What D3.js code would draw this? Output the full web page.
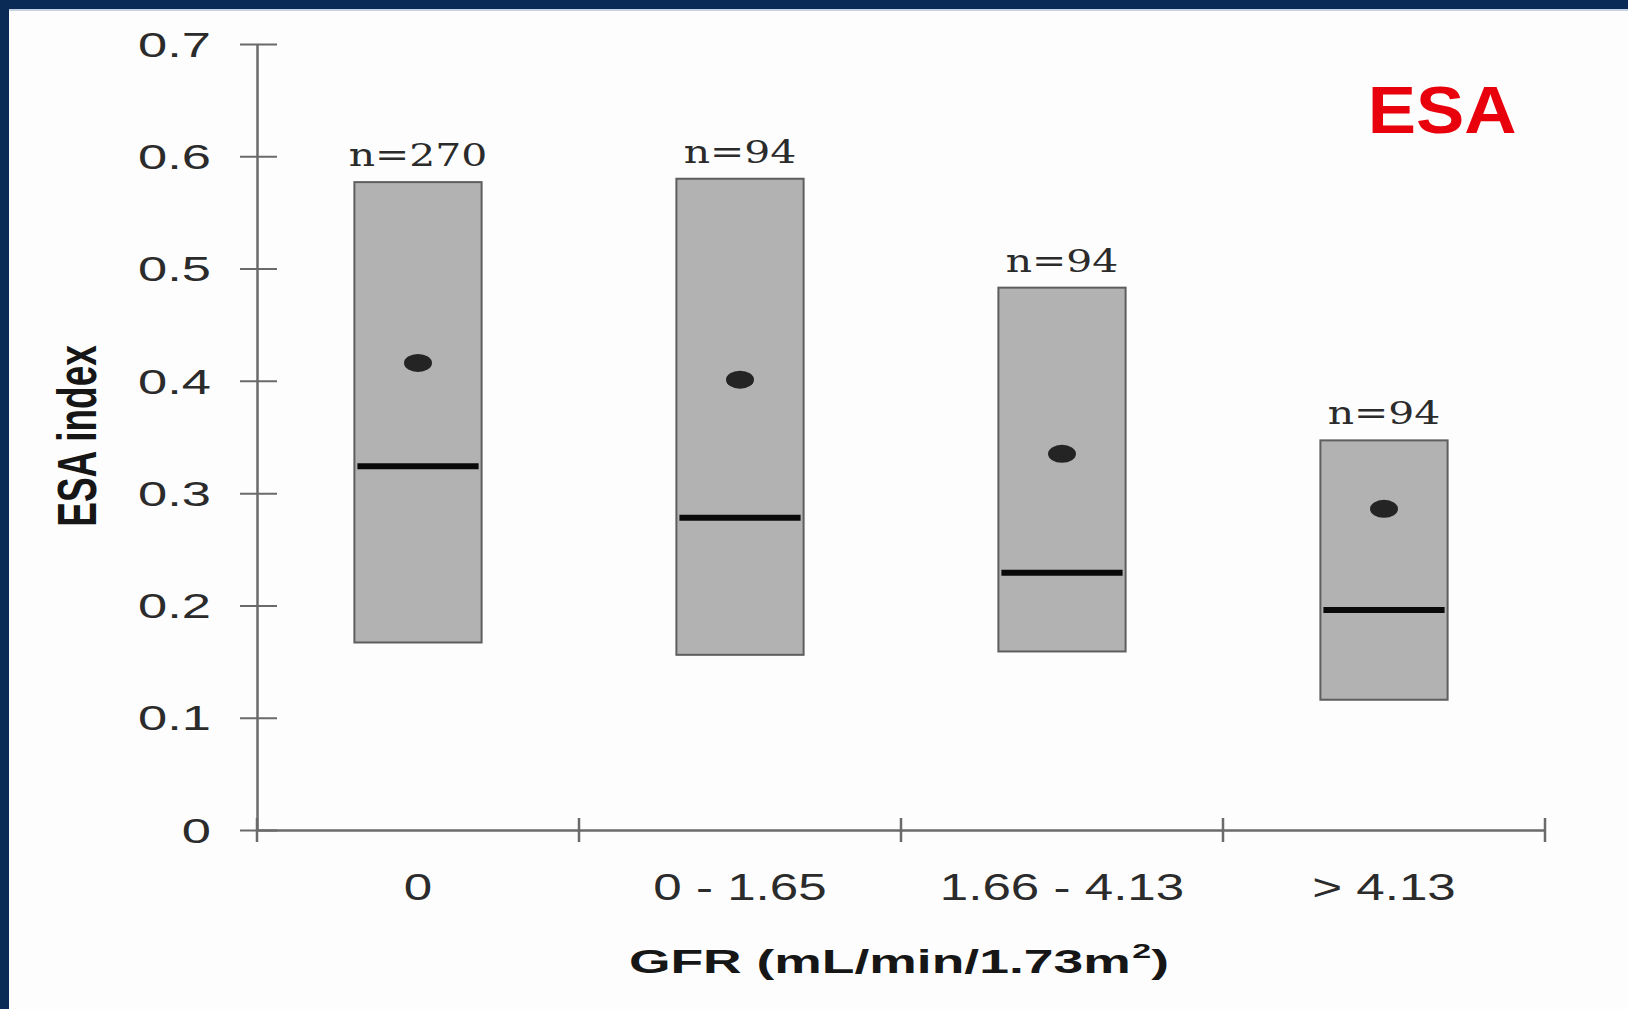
<!DOCTYPE html>
<html>
<head>
<meta charset="utf-8">
<script src="https://cdn.jsdelivr.net/npm/d3@7"></script>
<style>
	body { margin: 0; background: #fdfdfd; }
	svg { display: block; }
</style>
</head>
<body>
<svg id="chart" width="1628" height="1009"></svg>
<script>
/* global d3 */

// values
const categories = ['0', '0 - 1.65', '1.66 - 4.13', '> 4.13'];
const counts = [270, 94, 94, 94];
const upper = [0.577, 0.580, 0.483, 0.347];
const lower = [0.167, 0.156, 0.159, 0.116];
const medians = [0.324, 0.278, 0.229, 0.196];
const means = [0.416, 0.401, 0.335, 0.286];
const yTicks = [0, 0.1, 0.2, 0.3, 0.4, 0.5, 0.6, 0.7];

const rows = categories.map((c, i) => ({
	cat: c, n: counts[i], hi: upper[i], lo: lower[i], med: medians[i], mean: means[i],
}));

const width = 1628;
const height = 1009;
const navy = '#0b2b57';
const axisColor = '#6a6a6a';
const textColor = '#2b2b2b';

const svg = d3.select('#chart');

// slide frame
svg.append('rect').attr('width', width).attr('height', height).attr('fill', '#fdfdfd');
svg.append('rect').attr('width', width).attr('height', 9).attr('fill', navy);
svg.append('rect').attr('y', 9).attr('width', width).attr('height', 2).attr('fill', '#c4d2e4');
svg.append('rect').attr('width', 9).attr('height', height).attr('fill', navy);

const x = d3.scaleBand()
	.domain(categories)
	.range([257, 1545]);

const y = d3.scaleLinear()
	.domain([0, 0.7])
	.range([830, 44]);

const boxWidth = x.bandwidth() * 0.395;

// y axis
const yAxis = svg.append('g')
	.attr('transform', `translate(${x.range()[0]},0)`)
	.call(d3.axisLeft(y)
		.tickValues(yTicks)
		.tickSizeInner(17)
		.tickSizeOuter(0)
		.tickFormat(d => d === 0 ? '0' : d.toFixed(1)));

yAxis.select('.domain').attr('stroke', axisColor).attr('stroke-width', 2.5);
yAxis.selectAll('.tick line')
	.attr('stroke', axisColor)
	.attr('stroke-width', 2)
	.attr('x1', 20);
yAxis.selectAll('.tick text')
	.attr('x', 0)
	.attr('dy', '0.35em')
	.attr('transform', 'translate(-46,0) scale(1.5,1)')
	.attr('fill', textColor)
	.style('font-family', '"Liberation Sans", Arial, sans-serif')
	.style('font-size', '35px');

// x axis
const xAxis = svg.append('g')
	.attr('transform', `translate(0,${y(0)})`)
	.call(d3.axisBottom(x).tickSize(0).tickSizeOuter(0));

xAxis.select('.domain').attr('stroke', axisColor).attr('stroke-width', 2.5);
xAxis.selectAll('.tick text')
	.attr('y', 0)
	.attr('dy', 0)
	.attr('transform', 'translate(0,70) scale(1.42,1)')
	.attr('fill', textColor)
	.style('font-family', '"Liberation Sans", Arial, sans-serif')
	.style('font-size', '36px');

const bounds = categories.map(c => x(c)).concat([x.range()[1]]);
svg.append('g').selectAll('line')
	.data(bounds)
	.join('line')
	.attr('x1', d => d)
	.attr('x2', d => d)
	.attr('y1', y(0) - 12)
	.attr('y2', y(0) + 12)
	.attr('stroke', axisColor)
	.attr('stroke-width', 2.5);

// boxes
const box = svg.append('g').selectAll('g')
	.data(rows)
	.join('g')
	.attr('transform', d => `translate(${x(d.cat) + x.bandwidth() / 2},0)`);

box.append('rect')
	.attr('x', -boxWidth / 2)
	.attr('width', boxWidth)
	.attr('y', d => y(d.hi))
	.attr('height', d => y(d.lo) - y(d.hi))
	.attr('fill', '#b2b2b2')
	.attr('stroke', '#5e5e5e')
	.attr('stroke-width', 2);

box.append('line')
	.attr('x1', -boxWidth / 2 + 3)
	.attr('x2', boxWidth / 2 - 3)
	.attr('y1', d => y(d.med))
	.attr('y2', d => y(d.med))
	.attr('stroke', '#0a0a0a')
	.attr('stroke-width', 6);

box.append('ellipse')
	.attr('cx', 0)
	.attr('cy', d => y(d.mean))
	.attr('rx', 14)
	.attr('ry', 9)
	.attr('fill', '#242424');

box.append('text')
	.attr('transform', d => `translate(0,${y(d.hi) - 16}) scale(1.32,1)`)
	.attr('text-anchor', 'middle')
	.attr('fill', textColor)
	.style('font-family', '"DejaVu Serif", "Liberation Serif", serif')
	.style('font-size', '31px')
	.text(d => `n=${d.n}`);

// axis titles
svg.append('text')
	.attr('transform', 'translate(96,436) scale(1.5,1) rotate(-90)')
	.attr('text-anchor', 'middle')
	.attr('fill', '#161616')
	.style('font-family', '"Liberation Sans", Arial, sans-serif')
	.style('font-weight', 'bold')
	.style('font-size', '37px')
	.text('ESA index');

const xTitle = svg.append('text')
	.attr('transform', 'translate(899,973) scale(1.62,1)')
	.attr('text-anchor', 'middle')
	.attr('fill', '#161616')
	.style('font-family', '"Liberation Sans", Arial, sans-serif')
	.style('font-weight', 'bold')
	.style('font-size', '33px');
xTitle.append('tspan').text('GFR (mL/min/1.73m');
xTitle.append('tspan').attr('dy', -15).attr('dx', 1).style('font-size', '21px').text('2');
xTitle.append('tspan').attr('dy', 15).text(')');

// panel label
svg.append('text')
	.attr('transform', 'translate(1442,133) scale(1.08,1)')
	.attr('text-anchor', 'middle')
	.attr('fill', '#e8000d')
	.style('font-family', '"Liberation Sans", Arial, sans-serif')
	.style('font-weight', 'bold')
	.style('font-size', '67px')
	.text('ESA');
</script>
</body>
</html>
